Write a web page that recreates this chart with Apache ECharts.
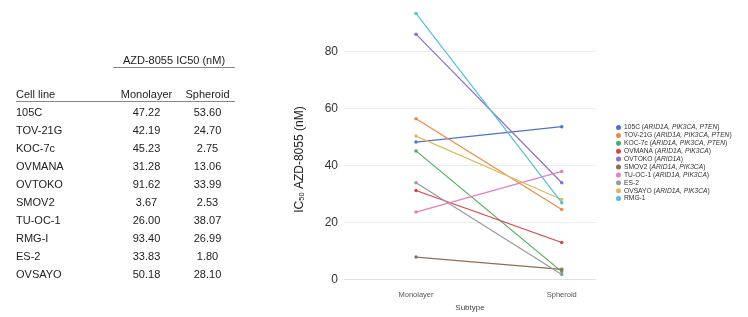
<!DOCTYPE html>
<html>
<head>
<meta charset="utf-8">
<script src="https://cdn.jsdelivr.net/npm/echarts@6/dist/echarts.min.js"></script>
<style>
  html, body { margin: 0; padding: 0; background: #fff; }
  #main { width: 748px; height: 317px; }
</style>
</head>
<body>
<div id="main"></div>
<script>
// table on the left (values as printed)
var tableTitle = 'AZD-8055 IC50 (nM)';
var tableHead = ['Cell line', 'Monolayer', 'Spheroid'];
var tableLines = ['105C', 'TOV-21G', 'KOC-7c', 'OVMANA', 'OVTOKO', 'SMOV2', 'TU-OC-1', 'RMG-I', 'ES-2', 'OVSAYO'];
var tableMono = ['47.22', '42.19', '45.23', '31.28', '91.62', '3.67', '26.00', '93.40', '33.83', '50.18'];
var tableSph = ['53.60', '24.70', '2.75', '13.06', '33.99', '2.53', '38.07', '26.99', '1.80', '28.10'];

// plot
var categories = ['Monolayer', 'Spheroid'];
var seriesNames = ['105C', 'TOV-21G', 'KOC-7c', 'OVMANA', 'OVTOKO', 'SMOV2', 'TU-OC-1', 'ES-2', 'OVSAYO', 'RMG-1'];
var seriesGenes = ['ARID1A, PIK3CA, PTEN', 'ARID1A, PIK3CA, PTEN', 'ARID1A, PIK3CA, PTEN', 'ARID1A, PIK3CA', 'ARID1A', 'ARID1A, PIK3CA', 'ARID1A, PIK3CA', '', 'ARID1A, PIK3CA', ''];
var monoValues = [48.2, 56.4, 45.1, 31.2, 86.1, 7.8, 23.6, 33.9, 50.3, 93.4];
var spherValues = [53.6, 24.5, 2.7, 12.9, 33.9, 3.5, 37.9, 1.7, 28.0, 26.9];
var yTicks = [0, 20, 40, 60, 80];

var colors = ['#4b74c9', '#ee8a45', '#4cae5a', '#d8434a', '#8b6fc8', '#8f6e55', '#e47fc6', '#9a9a9a', '#d9bd5c', '#55bfdb'];

var font = 'Liberation Sans, Arial, Helvetica, sans-serif';

// table graphics
var graphic = [];
graphic.push({
  type: 'text', x: 174, y: 60.7,
  style: { text: tableTitle, font: '11px ' + font, fill: '#222', textAlign: 'center', textVerticalAlign: 'middle' }
});
graphic.push({
  type: 'line', shape: { x1: 113, y1: 67.5, x2: 235, y2: 67.5 },
  style: { stroke: '#888', lineWidth: 1 }
});
graphic.push({
  type: 'line', shape: { x1: 16, y1: 101.5, x2: 235, y2: 101.5 },
  style: { stroke: '#888', lineWidth: 1 }
});
var colX = [16, 146.5, 207.5];
var headY = 95;
graphic.push({ type: 'text', x: colX[0], y: headY, style: { text: tableHead[0], font: '11px ' + font, fill: '#222', textVerticalAlign: 'middle' } });
graphic.push({ type: 'text', x: colX[1], y: headY, style: { text: tableHead[1], font: '11px ' + font, fill: '#222', textAlign: 'center', textVerticalAlign: 'middle' } });
graphic.push({ type: 'text', x: colX[2], y: headY, style: { text: tableHead[2], font: '11px ' + font, fill: '#222', textAlign: 'center', textVerticalAlign: 'middle' } });
tableLines.forEach(function (name, i) {
  var y = 112.7 + i * 18;
  graphic.push({ type: 'text', x: colX[0], y: y, style: { text: name, font: '11px ' + font, fill: '#222', textVerticalAlign: 'middle' } });
  graphic.push({ type: 'text', x: colX[1], y: y, style: { text: tableMono[i], font: '11px ' + font, fill: '#222', textAlign: 'center', textVerticalAlign: 'middle' } });
  graphic.push({ type: 'text', x: colX[2], y: y, style: { text: tableSph[i], font: '11px ' + font, fill: '#222', textAlign: 'center', textVerticalAlign: 'middle' } });
});

var series = seriesNames.map(function (name, i) {
  return {
    name: name,
    type: 'line',
    symbol: 'circle',
    symbolSize: 3.5,
    color: colors[i],
    lineStyle: { width: 1.2 },
    data: [[0, monoValues[i]], [1, spherValues[i]]]
  };
});

var chart = echarts.init(document.getElementById('main'));
chart.setOption({
  animation: false,
  textStyle: { fontFamily: font },
  graphic: graphic,
  grid: { left: 344, right: 152, top: 6, bottom: 27 },
  legend: {
    orient: 'vertical',
    left: 611,
    top: 119,
    icon: 'circle',
    itemWidth: 5,
    itemHeight: 5,
    itemGap: 0.9,
    data: seriesNames,
    textStyle: {
      fontSize: 6.7,
      color: '#333',
      padding: [0, 0, 0, -2],
      rich: { i: { fontSize: 6.7, fontStyle: 'italic', color: '#333' } }
    },
    formatter: function (name) {
      var g = seriesGenes[seriesNames.indexOf(name)];
      return g ? name + ' ({i|' + g + '})' : name;
    }
  },
  xAxis: {
    type: 'value',
    min: -0.494,
    max: 1.235,
    name: 'Subtype',
    nameLocation: 'middle',
    nameGap: 14,
    nameTextStyle: { fontSize: 8, color: '#444' },
    axisLine: { show: true, lineStyle: { color: '#e2e2e2' } },
    axisTick: { show: false },
    splitLine: { show: false },
    axisLabel: {
      customValues: [0, 1],
      fontSize: 7.5,
      color: '#555',
      margin: 3,
      formatter: function (v) { return categories[Math.round(v)]; }
    }
  },
  yAxis: {
    type: 'value',
    min: -3.1,
    max: 96,
    name: '{a|IC}{s|50}{a| AZD-8055 (nM)}',
    nameLocation: 'middle',
    nameGap: 38,
    nameTextStyle: {
      padding: [0, 25, 0, 0],
      rich: {
        a: { fontSize: 12, color: '#222' },
        s: { fontSize: 7.5, color: '#222', verticalAlign: 'bottom', padding: [5, 0, 0, 0] }
      }
    },
    axisLine: { show: false },
    axisTick: { show: false, customValues: yTicks },
    splitLine: { show: true, lineStyle: { color: '#ececec', width: 1 } },
    axisLabel: { customValues: yTicks, fontSize: 12, color: '#333', margin: 6 }
  },
  series: series
});
</script>
</body>
</html>
